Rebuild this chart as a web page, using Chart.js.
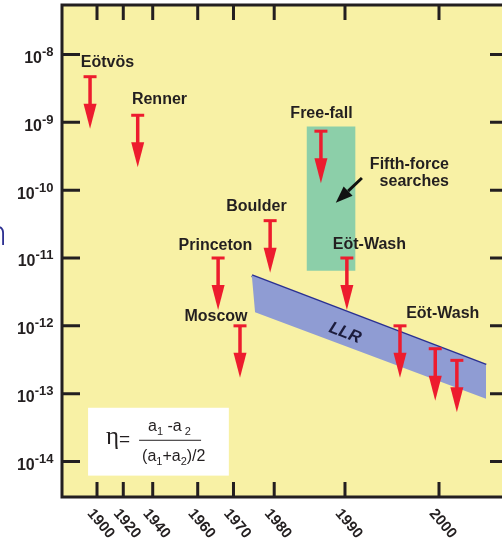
<!DOCTYPE html>
<html><head><meta charset="utf-8">
<script src="https://cdn.jsdelivr.net/npm/chart.js@4.4.1/dist/chart.umd.min.js"></script>
<style>
html,body{margin:0;padding:0;background:#fff;overflow:hidden;width:502px;height:547px}
#wrap{position:relative;width:520px;height:547px}
</style>
</head><body>
<div id="wrap"><canvas id="c" width="520" height="547"></canvas></div>
<script>
// ---------------- data ----------------
const experimentNames = ['Eötvös','Renner','Princeton','Moscow','Boulder','Free-fall','Eöt-Wash','Eöt-Wash','Eöt-Wash','Eöt-Wash'];
const experimentYears = [1894.7, 1929.8, 1965.7, 1971.6, 1979.0, 1986.6, 1990.2, 1995.85, 1999.6, 2001.9];
const experimentLimits = [4.7e-9, 1.27e-9, 1.0e-11, 1.0e-12, 3.55e-11, 7.4e-10, 1.0e-11, 1.0e-12, 4.6e-13, 3.1e-13];

const llrUpperYears = [1974.5, 2005.0];
const llrUpperEta = [5.5e-12, 2.64e-13];
const llrLowerYears = [1975.3, 2005.0];
const llrLowerEta = [1.58e-12, 8.4e-14];

const fifthForceYears = [1984.6, 1991.1];
const fifthForceEta = [6.5e-12, 8.7e-10];

const xTickYears = [1900, 1920, 1940, 1960, 1970, 1980, 1990, 2000];
const yTickExponents = [-8, -9, -10, -11, -12, -13, -14];

// annotation texts anchored in data coordinates (year, eta at text baseline)
const noteTexts = ['Eötvös','Renner','Boulder','Princeton','Moscow','Free-fall','Fifth-force','searches','Eöt-Wash','Eöt-Wash'];
const noteYears = [1908.0, 1943.0, 1975.65, 1964.97, 1965.1, 1986.68, 2001.06, 2001.06, 1992.6, 2000.4];
const noteEta = [6.45e-9, 1.85e-9, 4.86e-11, 1.33e-11, 1.17e-12, 1.15e-9, 2.02e-10, 1.17e-10, 1.35e-11, 1.30e-12];
const noteAlign = ['center','center','center','center','center','center','right','right','center','center'];

const pointerTail = {year: 1991.8, eta: 1.51e-10};
const pointerTip = {year: 1988.7, eta: 6.5e-11};
const llrLabel = {text: 'LLR', year: 1990.0, eta: 7.8e-13};
const formulaBox = {years: [1893.2, 1968.7], eta: [6.2e-14, 6.2e-15]};

// ---------------- styles ----------------
const YELLOW = '#f8f1a5';
const RED = '#ed1c2e';
const INK = '#231f20';
const GREEN = '#8ccfa9';
const LLR_FILL = '#8f9cd3';
const LLR_LINE = '#2b3192';
const FONT = '"Liberation Sans", Arial, Helvetica, sans-serif';

// ---------------- non-uniform year axis ----------------
const X_WARP_FRACTIONS = [0.0785, 0.1374, 0.2034, 0.3043, 0.3845, 0.4758, 0.6345, 0.8453];
class WarpedYearScale extends Chart.LinearScale {
  warpFraction(v) {
    const ys = xTickYears, fs = X_WARP_FRACTIONS, n = ys.length;
    let i = 0;
    if (v <= ys[0]) i = 0;
    else if (v >= ys[n - 1]) i = n - 2;
    else { while (v > ys[i + 1]) i++; }
    const t = (v - ys[i]) / (ys[i + 1] - ys[i]);
    return fs[i] + t * (fs[i + 1] - fs[i]);
  }
  getPixelForValue(v) {
    return (v === null || v === undefined) ? NaN : this.getPixelForDecimal(this.warpFraction(v));
  }
}
WarpedYearScale.id = 'warpedYear';
WarpedYearScale.defaults = {};
Chart.register(WarpedYearScale);

// ---------------- helpers ----------------
function pt(x, y) { return {x, y}; }

function drawRuns(ctx, x, y, runs) {
  for (const r of runs) {
    ctx.font = r.f + 'px ' + FONT;
    ctx.fillText(r.t, x, y + (r.dy || 0));
    x += ctx.measureText(r.t).width;
  }
}

const artPlugin = {
  id: 'art',
  beforeDraw(chart) {
    const {ctx, chartArea: a} = chart;
    ctx.save();
    ctx.fillStyle = YELLOW;
    ctx.fillRect(a.left, a.top, a.right - a.left, a.bottom - a.top);
    // formula box background
    const xs = chart.scales.x, ys = chart.scales.y;
    const bx0 = xs.getPixelForValue(formulaBox.years[0]);
    const bx1 = xs.getPixelForValue(formulaBox.years[1]);
    const by0 = ys.getPixelForValue(formulaBox.eta[0]);
    const by1 = ys.getPixelForValue(formulaBox.eta[1]);
    ctx.fillStyle = '#ffffff';
    ctx.fillRect(bx0, by0, bx1 - bx0, by1 - by0);
    // formula
    ctx.fillStyle = INK;
    ctx.textBaseline = 'alphabetic';
    ctx.textAlign = 'left';
    ctx.font = '25px "Liberation Serif", "DejaVu Serif", serif';
    ctx.fillText('η', bx0 + 18, by0 + 36);
    ctx.font = '19px ' + FONT;
    ctx.fillText('=', bx0 + 31, by0 + 37);
    ctx.strokeStyle = INK; ctx.lineWidth = 1;
    ctx.beginPath(); ctx.moveTo(bx0 + 51, by0 + 32.5); ctx.lineTo(bx0 + 113, by0 + 32.5); ctx.stroke();
    drawRuns(ctx, bx0 + 60, by0 + 23, [
      {t: 'a', f: 16}, {t: '1', f: 11, dy: 4}, {t: ' -a', f: 16}, {t: ' 2', f: 11, dy: 4}
    ]);
    drawRuns(ctx, bx0 + 54, by0 + 53, [
      {t: '(a', f: 16}, {t: '1', f: 11, dy: 4}, {t: '+a', f: 16}, {t: '2', f: 11, dy: 4}, {t: ')/2', f: 16}
    ]);
    ctx.restore();
  },
  afterDatasetsDraw(chart) {
    const {ctx} = chart;
    const xs = chart.scales.x, ys = chart.scales.y;
    ctx.save();
    // upper-limit arrows
    ctx.strokeStyle = RED; ctx.fillStyle = RED;
    for (let i = 0; i < experimentYears.length; i++) {
      const px = xs.getPixelForValue(experimentYears[i]);
      const py = ys.getPixelForValue(experimentLimits[i]);
      ctx.lineWidth = 3;
      ctx.beginPath(); ctx.moveTo(px - 6.5, py); ctx.lineTo(px + 6.5, py); ctx.stroke();
      ctx.lineWidth = 3.5;
      ctx.beginPath(); ctx.moveTo(px, py); ctx.lineTo(px, py + 30); ctx.stroke();
      ctx.beginPath();
      ctx.moveTo(px - 6.5, py + 27); ctx.lineTo(px + 6.5, py + 27); ctx.lineTo(px, py + 52);
      ctx.closePath(); ctx.fill();
    }
    // pointer arrow to fifth-force box
    const tx = xs.getPixelForValue(pointerTail.year), ty = ys.getPixelForValue(pointerTail.eta);
    const hx = xs.getPixelForValue(pointerTip.year), hy = ys.getPixelForValue(pointerTip.eta);
    const ang = Math.atan2(hy - ty, hx - tx);
    const L = 17, W = 6.5;
    const bxp = hx - L * Math.cos(ang), byp = hy - L * Math.sin(ang);
    ctx.strokeStyle = '#111'; ctx.fillStyle = '#111'; ctx.lineWidth = 3;
    ctx.beginPath(); ctx.moveTo(tx, ty); ctx.lineTo(bxp, byp); ctx.stroke();
    ctx.beginPath();
    ctx.moveTo(hx, hy);
    ctx.lineTo(bxp + W * Math.sin(ang), byp - W * Math.cos(ang));
    ctx.lineTo(bxp - W * Math.sin(ang), byp + W * Math.cos(ang));
    ctx.closePath(); ctx.fill();
    // text notes
    ctx.fillStyle = INK;
    ctx.font = 'bold 16px ' + FONT;
    ctx.textBaseline = 'alphabetic';
    for (let i = 0; i < noteTexts.length; i++) {
      ctx.textAlign = noteAlign[i];
      ctx.fillText(noteTexts[i], xs.getPixelForValue(noteYears[i]), ys.getPixelForValue(noteEta[i]));
    }
    // LLR label rotated along band
    const lx0 = xs.getPixelForValue(llrUpperYears[0]), ly0 = ys.getPixelForValue(llrUpperEta[0]);
    const lx1 = xs.getPixelForValue(llrUpperYears[1]), ly1 = ys.getPixelForValue(llrUpperEta[1]);
    const rot = Math.atan2(ly1 - ly0, lx1 - lx0);
    ctx.save();
    ctx.translate(xs.getPixelForValue(llrLabel.year), ys.getPixelForValue(llrLabel.eta));
    ctx.rotate(rot);
    ctx.font = 'italic bold 17px ' + FONT;
    ctx.fillStyle = '#1c1c3c';
    ctx.textAlign = 'center'; ctx.textBaseline = 'middle';
    ctx.fillText(llrLabel.text, 0, 0);
    ctx.restore();
    ctx.restore();
  },
  afterDraw(chart) {
    const {ctx, chartArea: a} = chart;
    const xs = chart.scales.x, ys = chart.scales.y;
    ctx.save();
    ctx.strokeStyle = INK; ctx.lineWidth = 3;
    ctx.strokeRect(a.left, a.top, a.right - a.left, a.bottom - a.top);
    ctx.beginPath();
    for (const e of yTickExponents) {
      const py = ys.getPixelForValue(Math.pow(10, e));
      ctx.moveTo(a.left, py); ctx.lineTo(a.left + 18, py);
      ctx.moveTo(a.right - 18, py); ctx.lineTo(a.right, py);
    }
    for (const yr of xTickYears) {
      const px = xs.getPixelForValue(yr);
      ctx.moveTo(px, a.top); ctx.lineTo(px, a.top + 15);
      ctx.moveTo(px, a.bottom - 15); ctx.lineTo(px, a.bottom);
    }
    ctx.stroke();
    // y tick labels 10^e
    ctx.fillStyle = INK;
    ctx.textBaseline = 'alphabetic';
    ctx.textAlign = 'left';
    for (const e of yTickExponents) {
      const py = ys.getPixelForValue(Math.pow(10, e));
      const sup = String(e);
      ctx.font = 'bold 13px ' + FONT;
      const sw = ctx.measureText(sup).width;
      ctx.font = 'bold 16px ' + FONT;
      const bw = ctx.measureText('10').width;
      const right = a.left - 8.5;
      ctx.fillText('10', right - sw - bw, py + 8.5);
      ctx.font = 'bold 13px ' + FONT;
      ctx.fillText(sup, right - sw, py + 1.5);
    }
    // x tick labels rotated
    ctx.font = 'bold 15px ' + FONT;
    ctx.textBaseline = 'middle';
    for (const yr of xTickYears) {
      const px = xs.getPixelForValue(yr);
      ctx.save();
      ctx.translate(px - 7, a.bottom + 14);
      ctx.rotate(50 * Math.PI / 180);
      ctx.fillText(String(yr), 0, 0);
      ctx.restore();
    }
    // cropped letter at the left edge
    ctx.fillStyle = '#2e3192';
    ctx.font = '300 38px Lato, "DejaVu Sans", sans-serif';
    ctx.textAlign = 'right';
    ctx.textBaseline = 'alphabetic';
    ctx.fillText('n', 7, 245);
    ctx.restore();
  }
};

const fifthForceShape = [
  pt(fifthForceYears[0], fifthForceEta[0]), pt(fifthForceYears[1], fifthForceEta[0]),
  pt(fifthForceYears[1], fifthForceEta[1]), pt(fifthForceYears[0], fifthForceEta[1])
];
const llrShape = [
  pt(llrUpperYears[0], llrUpperEta[0]), pt(llrUpperYears[1], llrUpperEta[1]),
  pt(llrLowerYears[1], llrLowerEta[1]), pt(llrLowerYears[0], llrLowerEta[0])
];
const llrUpperLine = [pt(llrUpperYears[0], llrUpperEta[0]), pt(llrUpperYears[1], llrUpperEta[1])];

new Chart(document.getElementById('c'), {
  type: 'line',
  data: {
    datasets: [
      {label: 'Fifth-force searches', data: fifthForceShape, fill: 'shape', backgroundColor: GREEN,
       borderWidth: 0, borderColor: 'rgba(0,0,0,0)', pointRadius: 0, tension: 0},
      {label: 'LLR', data: llrShape, fill: 'shape', backgroundColor: LLR_FILL,
       borderWidth: 0, borderColor: 'rgba(0,0,0,0)', pointRadius: 0, tension: 0},
      {label: 'LLR limit', data: llrUpperLine, fill: false, borderColor: LLR_LINE, borderWidth: 3,
       pointRadius: 0, tension: 0, borderCapStyle: 'butt'}
    ]
  },
  options: {
    responsive: false,
    animation: false,
    events: [],
    parsing: true,
    layout: {padding: {left: 62, top: 5, right: 12, bottom: 50}},
    plugins: {legend: {display: false}, tooltip: {enabled: false}, title: {display: false}},
    scales: {
      x: {type: 'warpedYear', min: 1880, max: 2010, display: false},
      y: {type: 'logarithmic', min: Math.pow(10, -14.491), max: Math.pow(10, -7.271), display: false}
    }
  },
  plugins: [artPlugin]
});
</script>
</body></html>
